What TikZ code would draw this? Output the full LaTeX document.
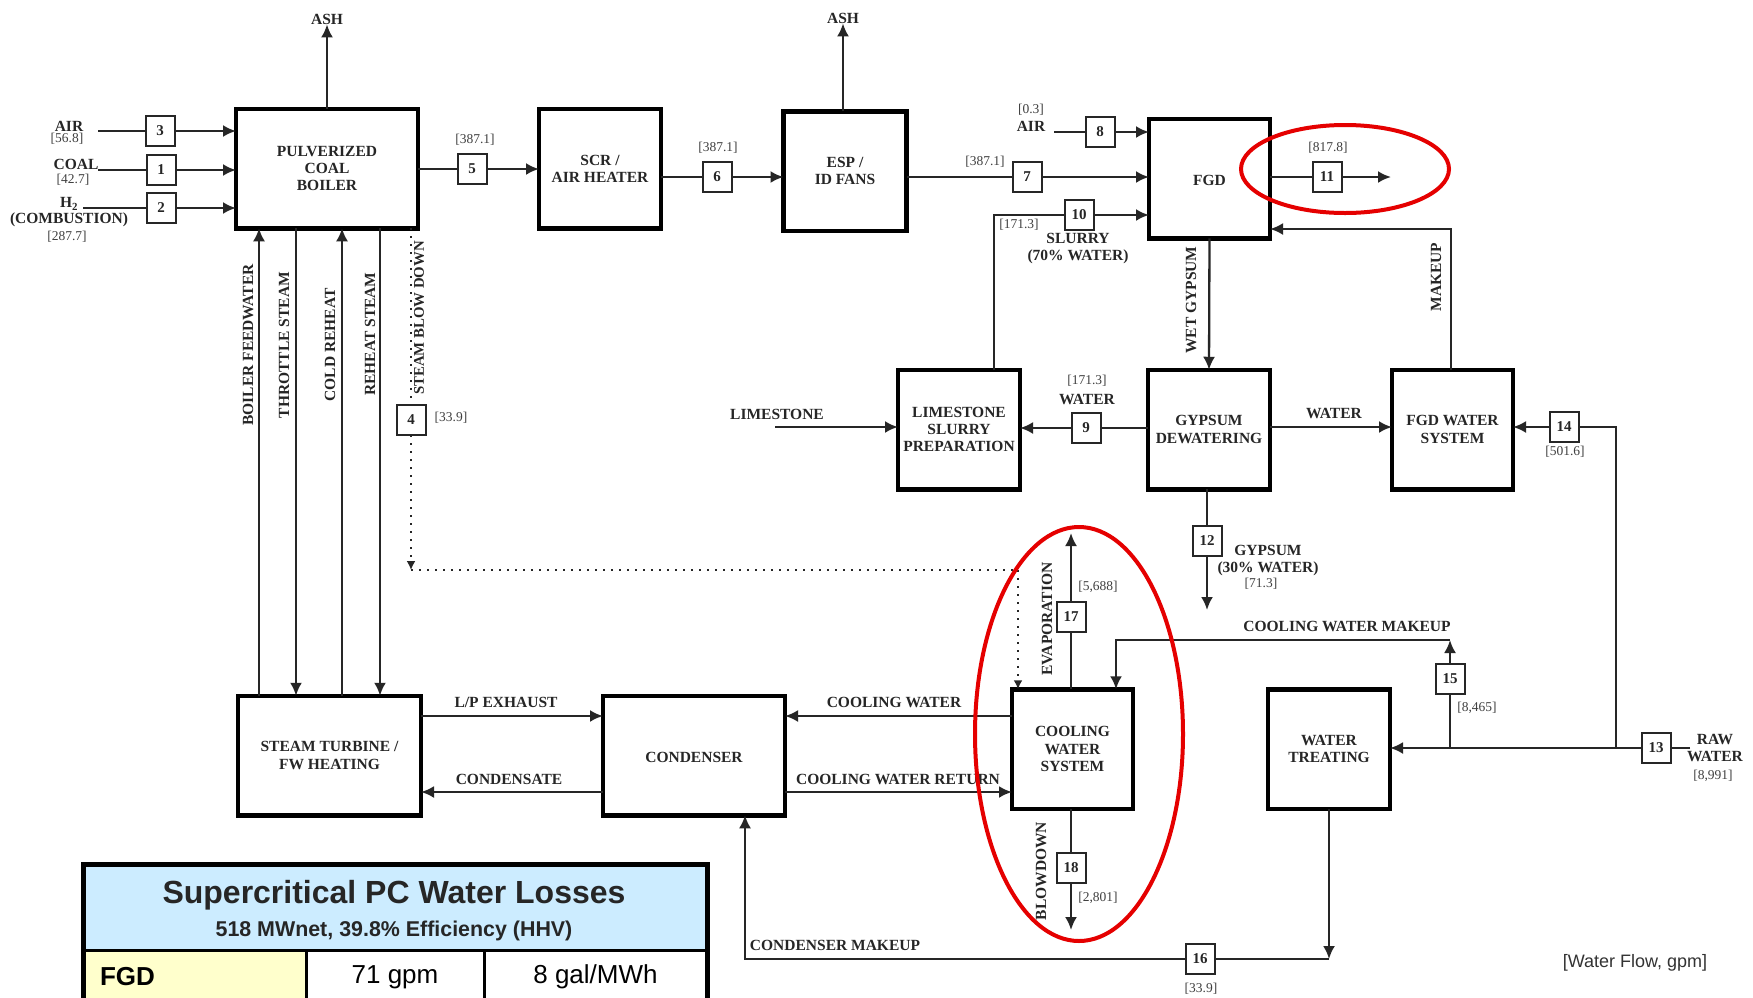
\documentclass[tikz,border=0pt]{standalone}
\usepackage{fontspec}
\setmainfont{Liberation Serif}
\newfontfamily\tablefont{Liberation Sans}
\usetikzlibrary{arrows.meta,positioning,calc}
\definecolor{headblue}{RGB}{204,236,255}
\definecolor{rowyellow}{RGB}{255,255,204}
\tikzset{
    plant/.style={draw=black, line width=4.5pt, fill=white, minimum width=#1, minimum height=119.5pt, outer sep=0pt, align=center, inner sep=0pt, text=black!85, font=\fontsize{15.5}{17.2}\selectfont\bfseries, execute at begin node={\rule{0pt}{14pt}}},
    tagbox/.style={draw=black!85, line width=2pt, fill=white, minimum width=29pt, minimum height=30pt, inner sep=0pt, outer sep=0pt, text=black!85, font=\fontsize{15}{16}\selectfont\bfseries},
    word/.style={inner sep=0pt, align=center, text=black!85, font=\fontsize{15.5}{17.2}\selectfont\bfseries},
    amount/.style={inner sep=0pt, text=black!75, font=\fontsize{13.5}{15}\selectfont},
    pipe/.style={line width=2.3pt, draw=black!85},
    flow/.style={pipe, -{Latex[length=13pt,width=12pt]}},
    dotpipe/.style={line width=2.3pt, draw=black!85, dash pattern=on 2pt off 6pt},
    dotflow/.style={dotpipe, -{Latex[length=9pt,width=9pt]}},
    ring/.style={draw=red!90!black, line width=4pt},
    cell/.style={draw=black, line width=3pt, minimum height=54pt, inner sep=0pt, outer sep=0pt, font=\tablefont\fontsize{26}{30}\selectfont},
}
\begin{document}
\begin{tikzpicture}[x=1pt, y=-1pt]
    \clip (0,0) rectangle (1753,997);
    \fill[white] (0,0) rectangle (1753,997);

    % Process boxes
    \node[plant=182pt] (boiler) at (327,168.5) {PULVERIZED\\COAL\\BOILER};
    \node[plant=122pt] (scr) at (600,168.5) {SCR /\\AIR HEATER};
    \node[plant=123pt] (esp) at (845,171) {ESP /\\ID FANS};
    \node[plant=121pt] (fgd) at (1209.5,178.5) {FGD};
    \node[plant=122pt] (limeprep) at (959,429.5) {LIMESTONE\\SLURRY\\PREPARATION};
    \node[plant=122pt] (gypdew) at (1209,429.5) {GYPSUM\\DEWATERING};
    \node[plant=121pt] (fgdwater) at (1452.5,429.5) {FGD WATER\\SYSTEM};
    \node[plant=183pt] (turbine) at (329.5,755.5) {STEAM TURBINE /\\FW HEATING};
    \node[plant=182pt] (condenser) at (694,755.5) {CONDENSER};
    \node[plant=121pt] (cooling) at (1072.5,749) {COOLING\\WATER\\SYSTEM};
    \node[plant=122pt] (treating) at (1329,749) {WATER\\TREATING};

    % Stream numbers
    \node[tagbox] (s1) at (161,170) {1};
    \node[tagbox] (s2) at (161,208) {2};
    \node[tagbox] (s3) at (160,131) {3};
    \node[tagbox] (s4) at (411,420) {4};
    \node[tagbox] (s5) at (472,169) {5};
    \node[tagbox] (s6) at (717,177) {6};
    \node[tagbox] (s7) at (1027,177) {7};
    \node[tagbox] (s8) at (1100,132) {8};
    \node[tagbox] (s9) at (1086,428) {9};
    \node[tagbox] (s10) at (1079,215) {10};
    \node[tagbox] (s11) at (1327,177) {11};
    \node[tagbox] (s12) at (1207,541) {12};
    \node[tagbox] (s13) at (1656,748) {13};
    \node[tagbox] (s14) at (1564,427) {14};
    \node[tagbox] (s15) at (1450,679) {15};
    \node[tagbox] (s16) at (1200,959) {16};
    \node[tagbox] (s17) at (1071,617) {17};
    \node[tagbox] (s18) at (1071,868) {18};

    % Free ends and branch points
    \coordinate (airin) at (98,131);
    \coordinate (coalin) at (98,170);
    \coordinate (h2in) at (83,208);
    \coordinate (airfgd) at (1054,132);
    \coordinate (stackout) at (1391,177);
    \coordinate (limein) at (775,427);
    \coordinate (gypout) at (1207,610);
    \coordinate (evapout) at (1071,533);
    \coordinate (blowout) at (1071,930);
    \coordinate (rawin) at (1690,748);
    \coordinate (rawtee) at (1616,748);
    \coordinate (fgdtee) at (1616,427);
    \coordinate (cwtee) at (1450,748);
    \coordinate (cwtop) at (1450,640);
    \coordinate (cwleft) at (1116,640);
    \coordinate (dropcorner) at (411,570);
    \coordinate (dropright) at (1018,570);
    \coordinate (slurrycorner) at (994,215);
    \coordinate (mkcorner) at (1451,229);
    \coordinate (treatcorner) at (1329,959);
    \coordinate (condcorner) at (745,959);
    \coordinate (feedx) at (259,0);
    \coordinate (throttlex) at (296,0);
    \coordinate (coldx) at (342,0);
    \coordinate (reheatx) at (380,0);

    % Ash
    \node[word] (ashboiler) at (327,19) {ASH};
    \node[word] (ashesp) at (843,18) {ASH};
    \draw[flow] (boiler.north) -- (ashboiler.south);
    \draw[flow] (esp.north -| ashesp) -- (ashesp.south);

    % Boiler inlets
    \draw[pipe] (airin) -- (s3);
    \draw[pipe] (coalin) -- (s1);
    \draw[pipe] (h2in) -- (s2);
    \draw[flow] (s3) -- (boiler.west |- s3);
    \draw[flow] (s1) -- (boiler.west |- s1);
    \draw[flow] (s2) -- (boiler.west |- s2);

    % Flue gas path
    \draw[pipe] (boiler.east |- s5) -- (s5);
    \draw[flow] (s5) -- (scr.west |- s5);
    \draw[pipe] (scr.east |- s6) -- (s6);
    \draw[flow] (s6) -- (esp.west |- s6);
    \draw[pipe] (esp.east |- s7) -- (s7);
    \draw[flow] (s7) -- (fgd.west |- s7);
    \draw[pipe] (airfgd) -- (s8);
    \draw[flow] (s8) -- (fgd.west |- s8);
    \draw[pipe] (fgd.east |- s11) -- (s11);
    \draw[flow] (s11) -- (stackout);

    % Steam lines
    \draw[flow] (turbine.north -| feedx) -- (boiler.south -| feedx);
    \draw[flow] (boiler.south -| throttlex) -- (turbine.north -| throttlex);
    \draw[flow] (turbine.north -| coldx) -- (boiler.south -| coldx);
    \draw[flow] (boiler.south -| reheatx) -- (turbine.north -| reheatx);
    \draw[dotpipe] (boiler.south -| s4) -- (s4);
    \draw[dotflow] (s4) -- (dropcorner);
    \draw[dotpipe] (dropcorner) -- (dropright);
    \draw[dotflow] (dropright) -- (cooling.north -| dropright);

    % FGD loop
    \draw[pipe] (limeprep.north -| slurrycorner) -- (slurrycorner) -- (s10);
    \draw[flow] (s10) -- (fgd.west |- s10);
    \draw[flow] (fgd.south) -- (gypdew.north);
    \draw[pipe] (gypdew.west |- s9) -- (s9);
    \draw[flow] (s9) -- (limeprep.east |- s9);
    \draw[flow] (limein) -- (limeprep.west |- limein);
    \draw[flow] (gypdew.east |- fgdtee) -- (fgdwater.west |- fgdtee);
    \draw[flow] (fgdwater.north -| mkcorner) -- (mkcorner) -- (fgd.east |- mkcorner);
    \draw[pipe] (gypdew.south -| s12) -- (s12);
    \draw[flow] (s12) -- (gypout);

    % Raw water
    \draw[pipe] (rawin) -- (s13);
    \draw[flow] (s13) -- (treating.east |- s13);
    \draw[pipe] (rawtee) -- (fgdtee) -- (s14);
    \draw[flow] (s14) -- (fgdwater.east |- s14);
    \draw[pipe] (cwtee) -- (s15);
    \draw[flow] (s15) -- (cwtop);
    \draw[flow] (cwtop) -- (cwleft) -- (cooling.north -| cwleft);
    \draw[flow] (treating.south -| treatcorner) -- (treatcorner);
    \draw[pipe] (treatcorner) -- (s16);
    \draw[flow] (s16) -- (condcorner) -- (condenser.south -| condcorner);

    % Condenser and cooling water
    \draw[flow] (turbine.east |- 0,716) -- (condenser.west |- 0,716);
    \draw[flow] (condenser.west |- 0,792) -- (turbine.east |- 0,792);
    \draw[flow] (cooling.west |- 0,716) -- (condenser.east |- 0,716);
    \draw[flow] (condenser.east |- 0,792) -- (cooling.west |- 0,792);
    \draw[pipe] (cooling.north -| s17) -- (s17);
    \draw[flow] (s17) -- (evapout);
    \draw[pipe] (cooling.south -| s18) -- (s18);
    \draw[flow] (s18) -- (blowout);

    % Stream labels
    \node[word] (lbair) at (69,126) {AIR};
    \node[amount] (am3) at (67,139) {[56.8]};
    \node[word] (lbcoal) at (76,164) {COAL};
    \node[amount] (am1) at (73,180) {[42.7]};
    \node[word] (lbh) at (69,204) {H\textsubscript{2}};
    \node[word] (lbcomb) at (69,220) {(COMBUSTION)};
    \node[amount] (am2) at (67,237) {[287.7]};
    \node[amount] (am5) at (475,140) {[387.1]};
    \node[amount] (am6) at (718,148) {[387.1]};
    \node[amount] (am7) at (985,162) {[387.1]};
    \node[amount] (am8) at (1031,110) {[0.3]};
    \node[word] (lbairfgd) at (1031,126) {AIR};
    \node[amount] (am11) at (1328,148) {[817.8]};
    \node[amount] (am10) at (1019,225) {[171.3]};
    \node[word] (lbslurry) at (1078,248.5) {SLURRY\\(70\% WATER)};
    \node[amount] (am9) at (1087,381) {[171.3]};
    \node[word] (lbwater) at (1087,399) {WATER};
    \node[word] (lbwatertwo) at (1334,413) {WATER};
    \node[word] (lblime) at (777,414) {LIMESTONE};
    \node[amount] (am14) at (1565,452) {[501.6]};
    \node[amount] (am4) at (451,418) {[33.9]};
    \node[word] (lbgyp) at (1268,560.5) {GYPSUM\\(30\% WATER)};
    \node[amount] (am12) at (1261,584) {[71.3]};
    \node[word] (lbcwm) at (1347,626) {COOLING WATER MAKEUP};
    \node[amount] (am15) at (1477,708) {[8,465]};
    \node[amount] (am17) at (1098,587) {[5,688]};
    \node[amount] (am18) at (1098,898) {[2,801]};
    \node[word] (lbraw) at (1715,748) {RAW\\WATER};
    \node[amount] (am13) at (1713,776) {[8,991]};
    \node[amount] (am16) at (1201,989) {[33.9]};
    \node[word] (lblp) at (506,702) {L/P EXHAUST};
    \node[word] (lbcond) at (509,779) {CONDENSATE};
    \node[word] (lbcw) at (894,702) {COOLING WATER};
    \node[word] (lbcwr) at (898,779) {COOLING WATER RETURN};
    \node[word] (lbmk) at (835,945) {CONDENSER MAKEUP};
    \node[word, rotate=90] (lbfeed) at (248,345) {BOILER FEEDWATER};
    \node[word, rotate=90] (lbthrottle) at (284,345) {THROTTLE STEAM};
    \node[word, rotate=90] (lbcold) at (330,345) {COLD REHEAT};
    \node[word, rotate=90] (lbreheat) at (370,334) {REHEAT STEAM};
    \node[word, rotate=90, font=\fontsize{14.8}{16}\selectfont\bfseries] (lbblow) at (419,318) {STEAM BLOW DOWN};
    \node[word, rotate=90] (lbwet) at (1191,300) {WET GYPSUM};
    \node[word, rotate=90] (lbmakeup) at (1436,277) {MAKEUP};
    \node[word, rotate=90] (lbevap) at (1047,619) {EVAPORATION};
    \node[word, rotate=90] (lbbd) at (1041,871) {BLOWDOWN};
    \node[inner sep=0pt, text=black!80, font=\tablefont\fontsize{18}{20}\selectfont] (flownote) at (1635,963) {[Water Flow, gpm]};

    % Loss table
    \node[draw=black, line width=3pt, fill=headblue, minimum width=624pt, minimum height=86pt, inner sep=0pt, outer sep=0pt] (tablehead) at (395,907) {};
    \node[inner sep=0pt, text=black!85, font=\tablefont\bfseries\fontsize{32}{36}\selectfont] (tabletitle) at (394,895) {Supercritical PC Water Losses};
    \node[inner sep=0pt, text=black!85, font=\tablefont\bfseries\fontsize{21.4}{24}\selectfont] (tablesub) at (394,931) {518 MWnet, 39.8\% Efficiency (HHV)};
    \node[cell, fill=rowyellow, minimum width=223pt, text width=189pt, font=\tablefont\bfseries\fontsize{26}{30}\selectfont] (rowname) at (194.5,977) {FGD};
    \node[cell, minimum width=178pt] (rowgpm) at (395,977) {71 gpm};
    \node[cell, minimum width=223pt] (rowgal) at (595.5,977) {8 gal/MWh};
    \draw[black, line width=5pt] (tablehead.north west) rectangle (rowgal.south east);

    % Highlight rings
    \draw[ring] (1345,169) ellipse [x radius=104pt, y radius=44pt];
    \draw[ring] (1079,734) ellipse [x radius=104pt, y radius=207pt];
\end{tikzpicture}
\end{document}
